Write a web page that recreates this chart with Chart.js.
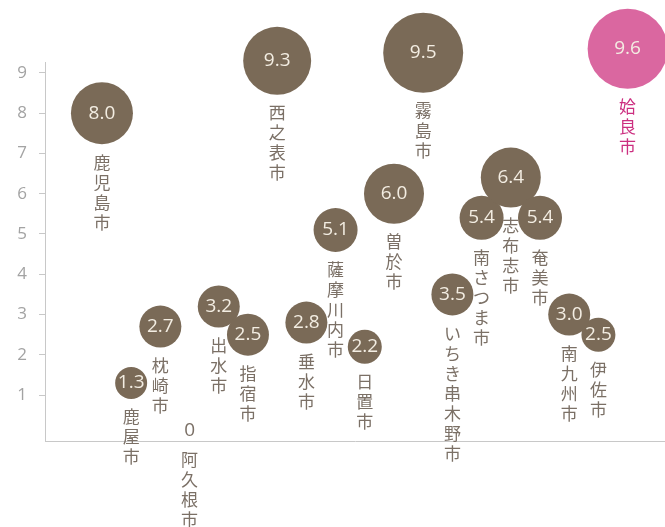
<!DOCTYPE html>
<html lang="ja">
<head>
    <meta charset="UTF-8">
    <title>市別バブルチャート</title>
    <script src="https://cdn.jsdelivr.net/npm/chart.js"></script>
    <style>
        body { margin: 0; background: #fff; }
    </style>
</head>
<body>
    <canvas id="bubbleChart" width="665" height="527"></canvas>

    <script>
        // 市の並び（左から右）
        const cities = [
            '鹿児島市', '鹿屋市', '枕崎市', '阿久根市', '出水市', '指宿市', '西之表市',
            '垂水市', '薩摩川内市', '日置市', '曽於市', '霧島市', 'いちき串木野市',
            '南さつま市', '志布志市', '奄美市', '南九州市', '伊佐市', '姶良市'
        ];
        // 各市の値
        const values = [8.0, 1.3, 2.7, 0, 3.2, 2.5, 9.3, 2.8, 5.1, 2.2, 6.0, 9.5, 3.5, 5.4, 6.4, 5.4, 3.0, 2.5, 9.6];
        // バブルの大きさ（第三の値、図から読み取り）
        const bubbleSize = [31, 16, 21, 0, 21, 21, 34, 21, 22, 17, 30, 40, 21, 22, 30, 22, 21, 17, 40];
        // y軸の目盛り
        const yTicks = [1, 2, 3, 4, 5, 6, 7, 8, 9];
        // 強調する市
        const highlight = '姶良市';

        const brown = '#7a6a57';
        const pink = '#da67a0';
        const labelColor = '#7b7066';
        const labelPink = '#cc2f80';

        const points = cities.map((c, i) => ({ x: i + 1, y: values[i], r: bubbleSize[i] }));

        // バブル内の数値と縦書きの市名
        const labelPlugin = {
            id: 'cityLabels',
            afterDatasetsDraw(chart) {
                const ctx = chart.ctx;
                const meta = chart.getDatasetMeta(0);
                ctx.save();
                ctx.textAlign = 'center';
                ctx.textBaseline = 'middle';
                meta.data.forEach((el, i) => {
                    const r = bubbleSize[i];
                    const isHi = cities[i] === highlight;
                    let start;
                    ctx.font = '19px "Open Sans"';
                    if (values[i] === 0) {
                        ctx.fillStyle = labelColor;
                        ctx.fillText('0', el.x, el.y - 5);
                        start = el.y + 24;
                    } else {
                        ctx.fillStyle = '#f3ede2';
                        ctx.fillText(values[i].toFixed(1), el.x, el.y);
                        start = el.y + r + 18;
                    }
                    ctx.font = '17px "Noto Sans CJK JP"';
                    ctx.fillStyle = isHi ? labelPink : labelColor;
                    Array.from(cities[i]).forEach((ch, k) => {
                        ctx.fillText(ch, el.x, start + k * 20);
                    });
                });
                ctx.restore();
            }
        };

        const ctx = document.getElementById('bubbleChart').getContext('2d');
        const chart = new Chart(ctx, {
            type: 'bubble',
            data: {
                datasets: [{
                    data: points,
                    backgroundColor: cities.map(c => c === highlight ? pink : brown),
                    borderWidth: 0,
                    clip: false
                }]
            },
            options: {
                responsive: false,
                animation: false,
                events: [],
                layout: {
                    autoPadding: false,
                    padding: { top: 62, left: 0, right: 0, bottom: 0 }
                },
                plugins: {
                    legend: { display: false },
                    tooltip: { enabled: false }
                },
                scales: {
                    x: {
                        type: 'linear',
                        min: -0.95,
                        max: 20.28,
                        grid: { display: false },
                        border: { display: true, color: '#c8c8c8', width: 1 },
                        ticks: { display: false },
                        afterFit(scale) { scale.height = 86; }
                    },
                    y: {
                        min: -0.14,
                        max: 9.27,
                        afterBuildTicks(scale) {
                            scale.ticks = yTicks.map(v => ({ value: v }));
                        },
                        afterFit(scale) { scale.width = 45; },
                        grid: {
                            drawOnChartArea: false,
                            drawTicks: true,
                            tickLength: 6,
                            color: '#c8c8c8'
                        },
                        border: { display: true, color: '#c8c8c8', width: 1 },
                        ticks: {
                            color: '#a3a3a3',
                            padding: 12,
                            font: { family: 'Open Sans', size: 17 }
                        }
                    }
                }
            },
            plugins: [labelPlugin]
        });
    </script>
</body>
</html>
